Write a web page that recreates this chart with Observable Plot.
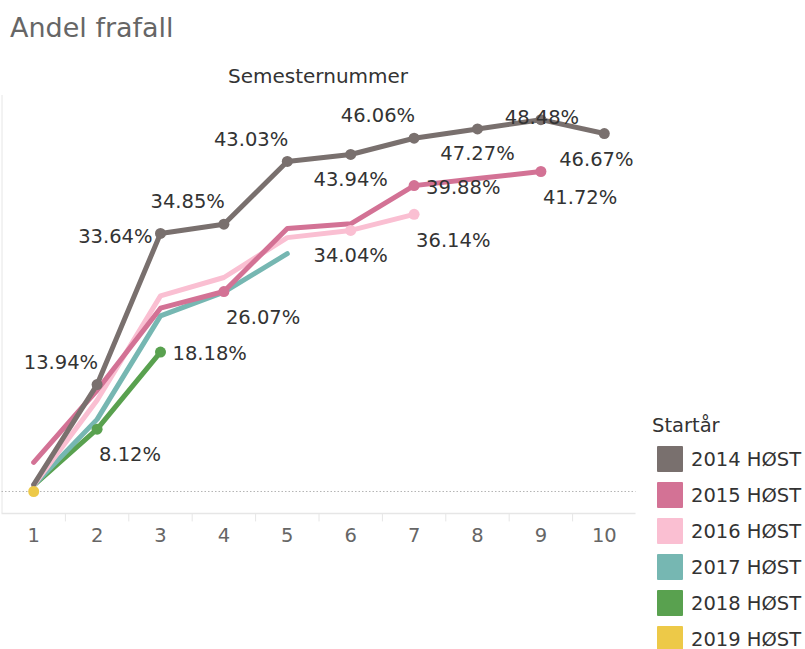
<!DOCTYPE html>
<html>
<head>
<meta charset="utf-8">
<script src="https://cdn.jsdelivr.net/npm/d3@7"></script>
<script src="https://cdn.jsdelivr.net/npm/@observablehq/plot@0.6"></script>
<style>
  html, body { margin: 0; padding: 0; background: #fff; }
  body { width: 805px; height: 649px; position: relative; overflow: hidden; font-family: "DejaVu Sans", sans-serif; }
  #title { position: absolute; left: 10px; top: 14px; font-size: 27px; color: #666; line-height: 1; }
  #xtitle { position: absolute; left: 228px; top: 66px; font-size: 20px; color: #333; line-height: 1; }
  #chart { position: absolute; left: 0; top: 90px; }
  #legend { position: absolute; left: 652px; top: 412px; color: #333; font-size: 19.5px; }
  #legend .lt { height: 28px; line-height: 28px; }
  #legend .row { position: absolute; left: 5px; height: 26px; display: flex; align-items: center; white-space: nowrap; }
  #legend .sw { width: 26px; height: 26px; margin-right: 8px; border-radius: 1px; }
</style>
</head>
<body>
<div id="title">Andel frafall</div>
<div id="xtitle">Semesternummer</div>
<div id="chart"></div>
<div id="legend"></div>
<script>
// ---- data ----
const series = ["2014 HØST", "2015 HØST", "2016 HØST", "2017 HØST", "2018 HØST", "2019 HØST"];
const colors = ["#79706E", "#D37295", "#FABFD2", "#76B7B2", "#59A14F", "#EDC948"];
const semesters = [1, 2, 3, 4, 5, 6, 7, 8, 9, 10];
const v2014 = [0.9, 13.94, 33.64, 34.85, 43.03, 43.94, 46.06, 47.27, 48.48, 46.67];
const v2015 = [3.8, 13.2, 23.9, 26.07, 34.3, 34.9, 39.88, 40.8, 41.72];
const v2016 = [0.8, 11.9, 25.5, 27.9, 33.1, 34.04, 36.14];
const v2017 = [0.8, 9.4, 22.9, 26.0, 31.0];
const v2018 = [0.8, 8.12, 18.18];
const v2019 = [0];
const values = [v2014, v2015, v2016, v2017, v2018, v2019];

// labelled points: [series index, semester]
const labelled = [
  [0, 2], [0, 3], [0, 4], [0, 5], [0, 6], [0, 7], [0, 8], [0, 9], [0, 10],
  [1, 4], [1, 7], [1, 9],
  [2, 6], [2, 7],
  [4, 2], [4, 3]
];
const placement = [
  "aboveEnd", "left", "aboveEnd", "aboveEnd", "below", "aboveEnd", "below", "on", "belowL",
  "belowStart", "right", "belowStart",
  "below", "belowStart",
  "belowStart", "right"
];
// points that get a marker without a label
const markerOnly = [[5, 1]];

// ---- build tables ----
const rows = [];
values.forEach((arr, i) => arr.forEach((v, j) => rows.push({series: series[i], idx: i, sem: semesters[j], value: v})));
const lookup = (i, s) => rows.find(r => r.idx === i && r.sem === s);
const labelRows = labelled.map(([i, s], k) => ({...lookup(i, s), place: placement[k]}));
const dotRows = labelRows.concat(markerOnly.map(([i, s]) => lookup(i, s)));

const place = {
  aboveEnd:   {textAnchor: "end",    dx: 1,  dy: -22},
  left:       {textAnchor: "end",    dx: -8, dy: 3},
  below:      {textAnchor: "middle", dx: 0,  dy: 25},
  belowL:     {textAnchor: "middle", dx: -8, dy: 26},
  on:         {textAnchor: "middle", dx: 1,  dy: -2},
  belowStart: {textAnchor: "start",  dx: 2,  dy: 26},
  right:      {textAnchor: "start",  dx: 12, dy: 2}
};

const yMin = -2.87, yMax = 51.63;
const drawOrder = [5, 4, 3, 2, 1, 0];
const lineMarks = drawOrder.map(i => Plot.line(rows.filter(r => r.idx === i), {
  x: "sem", y: "value", stroke: colors[i], strokeWidth: 5, strokeLinejoin: "round", strokeLinecap: "round"
}));
const labelMarks = Object.entries(place).map(([k, o]) => Plot.text(labelRows.filter(r => r.place === k), {
  x: "sem", y: "value", text: d => d.value.toFixed(2) + "%", ...o,
  fill: "#333", fontSize: 19.5, lineAnchor: "middle"
}));

const chart = Plot.plot({
  width: 640,
  height: 470,
  marginLeft: 1.5,
  marginRight: 4.5,
  marginTop: 5,
  marginBottom: 47,
  style: {fontFamily: "DejaVu Sans, sans-serif", background: "transparent", overflow: "visible"},
  x: {type: "linear", domain: [0.5, 10.5]},
  y: {domain: [yMin, yMax], axis: null},
  marks: [
    Plot.ruleX([0.5], {y1: yMin, y2: yMax, stroke: "#e6e6e6", strokeWidth: 1}),
    Plot.ruleY([yMin], {stroke: "#e6e6e6", strokeWidth: 1.5}),
    Plot.ruleX(d3.range(1.5, 10.5, 1), {y1: yMin, y2: yMin - 1.1, stroke: "#e6e6e6", strokeWidth: 1}),
    Plot.ruleY([0], {stroke: "#b5b5b5", strokeWidth: 1, strokeDasharray: "1.5,2"}),
    Plot.axisX(semesters, {tickSize: 0, tickPadding: 15, fontSize: 19.5, fill: "#666", tickFormat: d => String(d), label: null}),
    ...lineMarks,
    Plot.dot(dotRows, {x: "sem", y: "value", r: 5.5, fill: d => colors[d.idx], stroke: "none"}),
    ...labelMarks
  ]
});
document.getElementById("chart").appendChild(chart);

// ---- legend ----
const lg = document.getElementById("legend");
const lt = document.createElement("div");
lt.className = "lt";
lt.textContent = "Startår";
lg.appendChild(lt);
series.forEach((s, i) => {
  const row = document.createElement("div");
  row.className = "row";
  row.style.top = (34 + i * 36) + "px";
  const sw = document.createElement("div");
  sw.className = "sw";
  sw.style.background = colors[i];
  const tx = document.createElement("span");
  tx.textContent = s;
  row.appendChild(sw);
  row.appendChild(tx);
  lg.appendChild(row);
});
</script>
</body>
</html>
